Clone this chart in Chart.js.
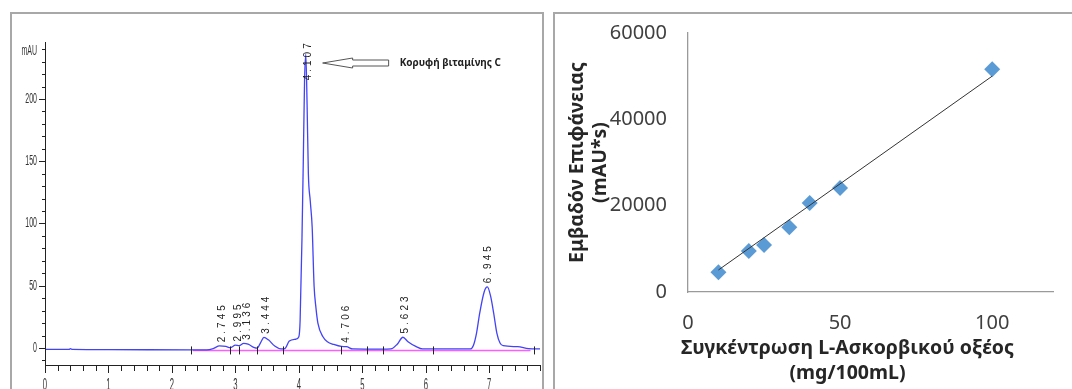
<!DOCTYPE html>
<html>
<head>
<meta charset="utf-8">
<script src="https://cdn.jsdelivr.net/npm/chart.js@4.4.1/dist/chart.umd.min.js"></script>
<style>
  html, body { margin: 0; padding: 0; background: #fff; }
  body { width: 1072px; height: 389px; position: relative; overflow: hidden; }
  .frame { position: absolute; border: 2px solid #a8a8a8; box-sizing: border-box; }
  #leftFrame { left: 10px; top: 12px; width: 534px; height: 420px; }
  #rightFrame { left: 553px; top: 12px; width: 560px; height: 420px; }
  canvas { position: absolute; }
  #chromatogram { left: 12px; top: 15px; }
  #calibration { left: 556px; top: 15px; }
</style>
</head>
<body>
<div class="frame" id="leftFrame"></div>
<div class="frame" id="rightFrame"></div>
<canvas id="chromatogram" width="529" height="374"></canvas>
<canvas id="calibration" width="516" height="374"></canvas>
<script>
// chromatogram trace (min, mAU)
const traceTime = [0.00, 0.38, 0.40, 0.43, 1.00, 2.30, 2.55, 2.65, 2.75, 2.85, 2.92, 3.00, 3.06, 3.13, 3.20, 3.30, 3.34,
  3.40, 3.45, 3.52, 3.62, 3.72, 3.78, 3.85, 3.95, 4.00, 4.02, 4.05, 4.07, 4.09, 4.11, 4.13, 4.15, 4.18, 4.21, 4.24,
  4.27, 4.30, 4.38, 4.45, 4.55, 4.67, 4.75, 4.85, 5.30, 5.45, 5.55, 5.64, 5.72, 5.85, 5.95, 6.70, 6.75, 6.80, 6.85,
  6.92, 6.97, 7.02, 7.07, 7.12, 7.17, 7.22, 7.45, 7.62, 7.80];
const traceMAU = [-1.2, -1.2, -0.5, -1.2, -1.4, -1.5, -1.5, -0.5, 1.6, 1.2, 0.2, 2.2, 1.8, 3.6, 3.0, 0.2, -0.2,
  4.5, 8.5, 6.5, 1.5, -0.8, -0.5, 5.5, 7.0, 9.0, 22, 90, 150, 215, 236, 195, 140, 118, 97, 50,
  32, 20, 9, 5, 2.8, 1.2, 1.0, -0.8, -1.0, -0.8, 3, 8.6, 5, 1, -0.8, -0.8, 2, 12, 28,
  45, 49, 42, 28, 12, 4, 1.8, 1.0, -0.6, -0.8];

const peakTimes = [2.745, 2.995, 3.136, 3.444, 4.107, 4.706, 5.623, 6.945];
const peakHeights = [1.6, 2.2, 3.6, 8.5, 236, 1.2, 8.6, 49];
const boundaryTimes = [2.30, 2.92, 3.06, 3.34, 3.75, 4.67, 5.08, 5.33, 6.12, 7.70];
const baselineTime = [2.33, 7.65];
const baselineMAU = [-2, -2];
const timeLabels = [0, 1, 2, 3, 4, 5, 6, 7];
const mauLabels = [0, 50, 100, 150, 200];

// calibration curve
const concentration = [10, 20, 25, 33.3, 40, 50, 100];
const peakArea = [4600, 9500, 10900, 15000, 20600, 24100, 51600];
const trendConc = [10, 100];
const trendArea = [5100, 50000];

const yTitle = ["Εμβαδόν Επιφάνειας", "(mAU*s)"];
const xTitle = ["Συγκέντρωση L-Ασκορβικού οξέος", "(mg/100mL)"];

function narrowText(ctx, text, x, y, align, sx) {
  ctx.save();
  ctx.translate(x, y);
  ctx.scale(sx, 1);
  ctx.textAlign = align;
  ctx.fillText(text, 0, 0);
  ctx.restore();
}

function spacedText(ctx, text, gap) {
  let cx = 0;
  for (const ch of text) {
    ctx.fillText(ch, cx, 0);
    cx += ctx.measureText(ch).width + gap;
  }
}

const chromAxes = {
  id: "chromAxes",
  afterDraw(chart) {
    const { ctx, chartArea: a, scales: { x, y } } = chart;
    ctx.save();
    ctx.strokeStyle = "#222";
    ctx.lineWidth = 1;
    ctx.beginPath();
    ctx.moveTo(a.left + 0.5, a.top);
    ctx.lineTo(a.left + 0.5, a.bottom + 0.5);
    ctx.lineTo(a.right, a.bottom + 0.5);
    for (let v = -10; v <= 240; v += 10) {
      const py = Math.round(y.getPixelForValue(v)) + 0.5;
      const len = v % 50 === 0 ? 6 : 3;
      ctx.moveTo(a.left - len, py);
      ctx.lineTo(a.left, py);
    }
    for (let i = 0; i <= 39; i++) {
      const px = Math.round(x.getPixelForValue(i * 0.2)) + 0.5;
      ctx.moveTo(px, a.bottom);
      ctx.lineTo(px, a.bottom + (i % 5 === 0 ? 8 : 6));
    }
    // peak boundary marks
    const by = y.getPixelForValue(baselineMAU[0]);
    boundaryTimes.forEach(t => {
      const px = Math.round(x.getPixelForValue(t)) + 0.5;
      ctx.moveTo(px, by - 4);
      ctx.lineTo(px, by + 4);
    });
    ctx.stroke();

    // axis labels
    ctx.fillStyle = "#333";
    ctx.font = "14px 'Liberation Sans'";
    ctx.textBaseline = "middle";
    mauLabels.forEach(v => narrowText(ctx, String(v), a.left - 8, y.getPixelForValue(v), "right", 0.5));
    narrowText(ctx, "mAU", a.left - 8, a.top + 9, "right", 0.5);
    ctx.font = "17px 'Liberation Sans'";
    ctx.textBaseline = "top";
    timeLabels.forEach(t => narrowText(ctx, String(t), x.getPixelForValue(t), a.bottom + 12, "center", 0.45));

    // peak retention time labels
    ctx.font = "10px 'Liberation Sans'";
    ctx.fillStyle = "#222";
    ctx.textBaseline = "middle";
    ctx.textAlign = "left";
    peakTimes.forEach((t, i) => {
      const base = y.getPixelForValue(Math.min(peakHeights[i] + 3, 215));
      ctx.save();
      ctx.translate(x.getPixelForValue(t) + 3, base);
      ctx.rotate(-Math.PI / 2);
      spacedText(ctx, t.toFixed(3), 3);
      ctx.restore();
    });

    // arrow pointing at the vitamin C peak
    const tipX = x.getPixelForValue(peakTimes[4]) + 17;
    const tipY = a.top + 21;
    ctx.beginPath();
    ctx.moveTo(tipX, tipY);
    ctx.lineTo(tipX + 30, tipY - 5);
    ctx.lineTo(tipX + 30, tipY - 3);
    ctx.lineTo(tipX + 66, tipY - 3);
    ctx.lineTo(tipX + 66, tipY + 3);
    ctx.lineTo(tipX + 30, tipY + 3);
    ctx.lineTo(tipX + 30, tipY + 5);
    ctx.closePath();
    ctx.fillStyle = "#fff";
    ctx.fill();
    ctx.strokeStyle = "#555";
    ctx.stroke();
    ctx.fillStyle = "#222";
    ctx.font = "bold 10px 'Noto Sans'";
    ctx.fillText("Κορυφή βιταμίνης C", tipX + 77, tipY);
    ctx.restore();
  }
};

new Chart(document.getElementById("chromatogram"), {
  type: "line",
  data: {
    datasets: [
      {
        data: traceTime.map((t, i) => ({ x: t, y: traceMAU[i] })),
        borderColor: "rgba(45, 45, 245, 0.9)",
        borderWidth: 1.3,
        pointRadius: 0,
        cubicInterpolationMode: "monotone",
        order: 0
      },
      {
        data: baselineTime.map((t, i) => ({ x: t, y: baselineMAU[i] })),
        borderColor: "#ff5cff",
        borderWidth: 1.5,
        pointRadius: 0,
        order: 1
      }
    ]
  },
  options: {
    responsive: false,
    animation: false,
    layout: { padding: { left: 33, top: 27, right: 1, bottom: 24 } },
    plugins: { legend: { display: false }, tooltip: { enabled: false } },
    scales: {
      x: { type: "linear", min: 0, max: 7.8, display: false },
      y: { min: -13.7, max: 245.8, display: false }
    }
  },
  plugins: [chromAxes]
});

const calibTitles = {
  id: "calibTitles",
  afterDraw(chart) {
    const { ctx, chartArea: a } = chart;
    ctx.save();
    ctx.fillStyle = "#262626";
    ctx.font = "bold 19.5px 'Noto Sans'";
    ctx.textAlign = "center";
    ctx.textBaseline = "middle";
    ctx.save();
    ctx.translate(a.left - 111, (a.top + a.bottom) / 2);
    ctx.rotate(-Math.PI / 2);
    ctx.fillText(yTitle[0], 0, 0);
    ctx.fillText(yTitle[1], 0, 23);
    ctx.restore();
    const cx = (a.left + a.right) / 2 - 23;
    ctx.fillText(xTitle[0], cx, a.bottom + 56);
    ctx.fillText(xTitle[1], cx, a.bottom + 81);
    ctx.restore();
  }
};

const tickFont = { family: "'Noto Sans'", size: 20 };

new Chart(document.getElementById("calibration"), {
  type: "scatter",
  data: {
    datasets: [
      {
        data: trendConc.map((c, i) => ({ x: c, y: trendArea[i] })),
        showLine: true,
        borderColor: "#333",
        borderWidth: 1,
        pointRadius: 0,
        order: 0
      },
      {
        data: concentration.map((c, i) => ({ x: c, y: peakArea[i] })),
        pointStyle: "rectRot",
        pointRadius: 8,
        backgroundColor: "#5b9bd5",
        borderWidth: 0,
        order: 1
      }
    ]
  },
  options: {
    responsive: false,
    animation: false,
    layout: { padding: { left: 0, top: 18, right: 19, bottom: 0 } },
    plugins: { legend: { display: false }, tooltip: { enabled: false } },
    scales: {
      x: {
        type: "linear",
        min: 0,
        max: 120,
        afterFit: s => { s.height = 97; s.paddingLeft = 0; s.paddingRight = 0; },
        grid: { drawOnChartArea: false, drawTicks: false },
        border: { display: true, color: "#9a9a9a", width: 1.3 },
        ticks: {
          stepSize: 50,
          autoSkip: false,
          maxRotation: 0,
          padding: 19,
          color: "#404040",
          font: tickFont,
          callback: v => (v % 50 === 0 ? String(v) : "")
        }
      },
      y: {
        min: 0,
        max: 60000,
        afterFit: s => { s.width = 132; s.paddingTop = 0; s.paddingBottom = 0; },
        grid: { drawOnChartArea: false, drawTicks: false },
        border: { display: true, color: "#9a9a9a", width: 1.3 },
        ticks: {
          stepSize: 20000,
          padding: 21,
          color: "#404040",
          font: tickFont,
          callback: v => String(v)
        }
      }
    }
  },
  plugins: [calibTitles]
});
</script>
</body>
</html>
